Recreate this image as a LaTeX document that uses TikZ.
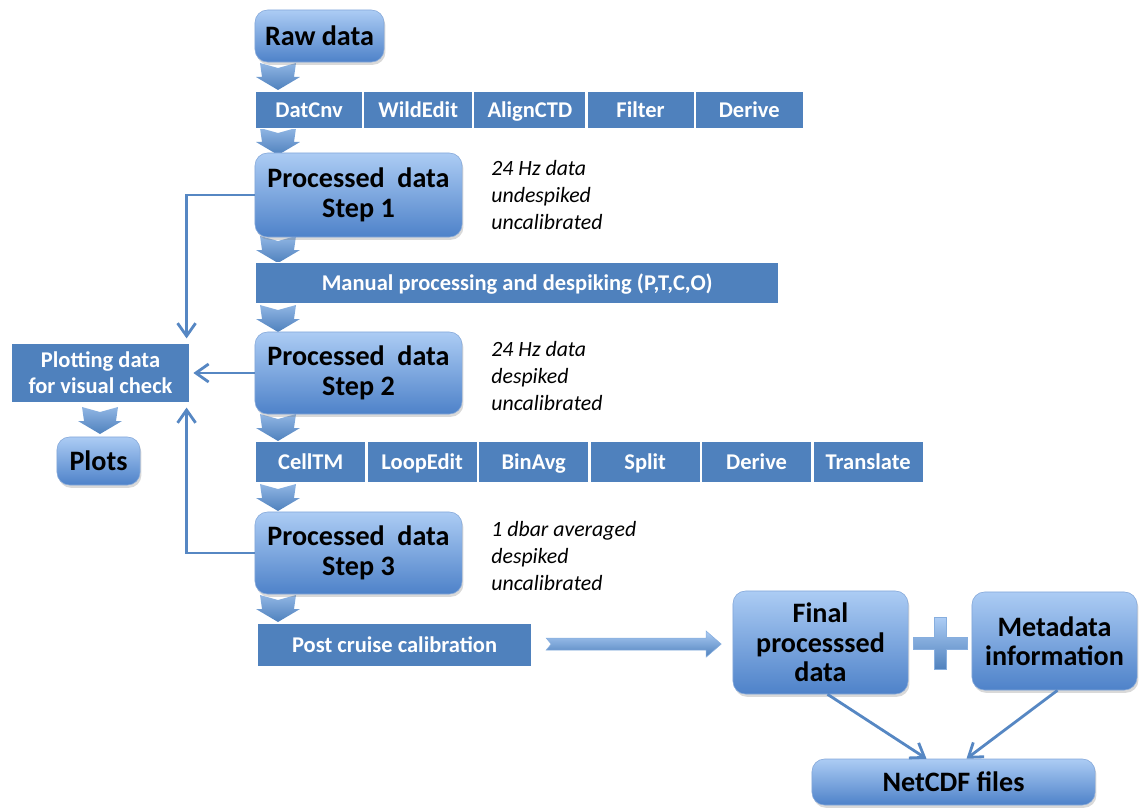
\documentclass[tikz,border=0pt]{standalone}
\usepackage{fontspec}
\setmainfont{Carlito}
\usetikzlibrary{positioning,arrows.meta,calc,shadows}
\definecolor{barblue}{RGB}{79,129,189}
\definecolor{boxtop}{RGB}{172,204,244}
\definecolor{boxbot}{RGB}{78,130,201}
\definecolor{flowblue}{RGB}{86,135,195}
\newcommand{\dnchev}[1]{\path[chev] #1 ++(4,0) -- ++(18,5) -- ++(18,-5)
  -- ++(-2,14) -- ++(6,0) -- ++(-22,13) -- ++(-22,-13) -- ++(6,0) -- cycle;}
\tikzset{
  databox/.style={rounded corners=9pt,top color=boxtop,bottom color=boxbot,
    draw=boxbot!70!white,line width=0.4pt,align=center,text=black,
    font=\fontsize{20}{21}\selectfont\bfseries,
    drop shadow={shadow xshift=1pt,shadow yshift=-2pt,opacity=0.3}},
  cell/.style={fill=barblue,draw=white,line width=0.8pt,text=white,
    font=\fontsize{16}{18.5}\selectfont\bfseries,inner sep=0pt,
    minimum height=1.025cm,text height=12.5pt,text depth=1.5pt},
  note/.style={font=\fontsize{15.5}{19}\selectfont\itshape,align=left,
    inner sep=0pt},
  flow/.style={-{Straight Barb[length=3.2mm,width=4.5mm]},draw=flowblue,
    line width=2pt},
  chev/.style={top color=boxtop!70!barblue,bottom color=barblue},
  bigarrow/.style={top color=boxtop,bottom color=barblue,
    draw=boxtop!60!barblue,line width=0.4pt},
}
\begin{document}
\begin{tikzpicture}[x=0.025cm,y=-0.025cm]
  \useasboundingbox (0,0) rectangle (1141,807);
  % chevrons down the main column
  \dnchev{(256,63)}
  \dnchev{(256,128)}
  \dnchev{(256,236)}
  \dnchev{(256,305)}
  \dnchev{(256,414)}
  \dnchev{(256,484)}
  \dnchev{(256,595)}
  \dnchev{(78,407)}
  % main column
  \node[databox,minimum width=3.225cm,minimum height=1.3cm] (raw) at (319.5,36) {Raw data};
  \node[cell,minimum height=0.925cm,minimum width=2.675cm,anchor=north west] (a1) at (255,91) {DatCnv};
  \node[cell,minimum height=0.925cm,minimum width=2.725cm,right=0pt of a1] (a2) {WildEdit};
  \node[cell,minimum height=0.925cm,minimum width=2.8cm,right=0pt of a2] (a3) {AlignCTD};
  \node[cell,minimum height=0.925cm,minimum width=2.675cm,right=0pt of a3] (a4) {Filter};
  \node[cell,minimum height=0.925cm,minimum width=2.7cm,right=0pt of a4] (a5) {Derive};
  \node[databox,minimum width=5.175cm,minimum height=2.1cm] (step1) at (358.5,195) {Processed\ \ data\\Step 1};
  \node[note,right=0.72cm of step1] (n1) {24 Hz data\\undespiked\\uncalibrated};
  \node[cell,minimum width=13.075cm,anchor=north west] (manual) at (255,262)
    {Manual processing and despiking (P,T,C,O)};
  \node[databox,minimum width=5.175cm,minimum height=2.05cm] (step2) at (358.5,373) {Processed\ \ data\\Step 2};
  \node[note,right=0.72cm of step2,yshift=-2] (n2) {24 Hz data\\despiked\\uncalibrated};
  \node[cell,minimum width=2.758cm,anchor=north west] (b1) at (255,441) {CellTM};
  \node[cell,minimum width=2.758cm,right=0pt of b1] (b2) {LoopEdit};
  \node[cell,minimum width=2.758cm,right=0pt of b2] (b3) {BinAvg};
  \node[cell,minimum width=2.758cm,right=0pt of b3] (b4) {Split};
  \node[cell,minimum width=2.758cm,right=0pt of b4] (b5) {Derive};
  \node[cell,minimum width=2.758cm,right=0pt of b5] (b6) {Translate};
  \node[databox,minimum width=5.175cm,minimum height=2.05cm] (step3) at (358.5,553) {Processed\ \ data\\Step 3};
  \node[note,right=0.72cm of step3,yshift=-2] (n3) {1 dbar averaged\\despiked\\uncalibrated};
  \node[cell,minimum width=6.85cm,minimum height=1.075cm,anchor=north west] (post) at (257,623)
    {Post cruise calibration};
  % output
  \node[databox,minimum width=4.375cm,minimum height=2.575cm] (final) at (820.5,642.5)
    {Final\\processsed\\data};
  \node[databox,minimum width=4.125cm,minimum height=2.45cm] (meta) at (1054.5,641)
    {Metadata\\information};
  \node[databox,minimum width=7.075cm,minimum height=1.15cm] (net) at (953.5,782) {NetCDF files};
  % plotting branch
  \node[cell,minimum width=4.475cm,minimum height=1.5cm,align=center,
    text height=,text depth=] (plot) at (100.5,373)
    {Plotting data\\for visual check};
  \node[databox,minimum width=2.075cm,minimum height=1.2cm] (plots) at (98.5,461) {Plots};
  % connectors
  \draw[flow] (step1.west) -| ($(plot.north east)+(-4,-4)$);
  \draw[flow,shorten >=2pt] (step2.west) -- (plot.east);
  \draw[flow] (step3.west) -| ($(plot.south east)+(-4,4)$);
  \draw[flow] ($(final.south)+(7,0)$) -- ($(net.north)+(-27,0)$);
  \draw[flow] ($(meta.south)+(3,0)$) -- ($(net.north)+(13,0)$);
  \coordinate (ba) at ($(post.east)+(14,-1)$);
  \path[bigarrow] ($(ba)+(0,-6)$) -- ++(160,0) -- ++(0,-7) -- ++(15,13)
    -- ++(-15,13) -- ++(0,-7) -- ++(-160,0) -- ++(5,-6) -- cycle;
  \coordinate (pl) at ($(final.east)!0.5!(meta.west)+(0,2)$);
  \path[bigarrow] ($(pl)+(-6,-26)$) -- ++(12,0) -- ++(0,20) -- ++(21,0)
    -- ++(0,12) -- ++(-21,0) -- ++(0,20) -- ++(-12,0) -- ++(0,-20)
    -- ++(-21,0) -- ++(0,-12) -- ++(21,0) -- cycle;
\end{tikzpicture}
\end{document}
